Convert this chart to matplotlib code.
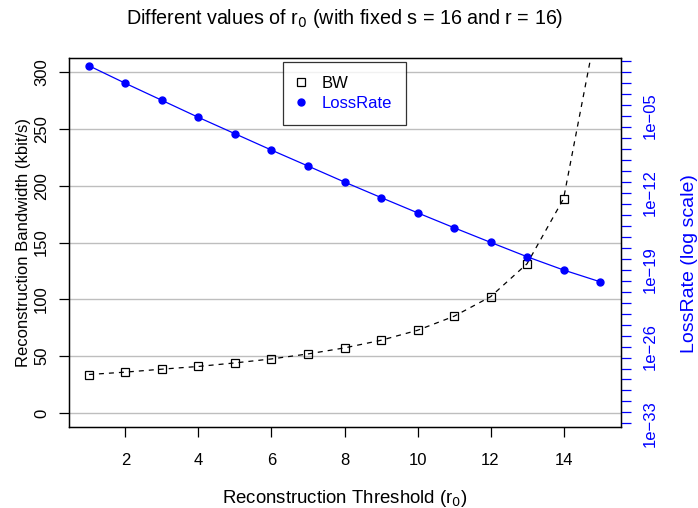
import numpy as np
import matplotlib
matplotlib.use("Agg")
import matplotlib.pyplot as plt
from matplotlib.lines import Line2D

plt.rcParams["font.family"] = ["Liberation Sans", "DejaVu Sans"]

# Reconstruction threshold r0 and the two measured quantities
r0 = [1, 2, 3, 4, 5, 6, 7, 8, 9, 10, 11, 12, 13, 14, 15]
bw = [33.9, 36.0, 38.6, 41.0, 44.1, 47.6, 52.0, 57.3, 64.0, 72.8, 85.1, 102.3, 131.3, 188.5, 355.0]
loss_exp = [-0.43, -2.03, -3.58, -5.13, -6.62, -8.11, -9.56, -11.02, -12.43,
            -13.82, -15.18, -16.51, -17.82, -19.03, -20.10]
loss_rate = [10.0 ** e for e in loss_exp]

x_ticks = [2, 4, 6, 8, 10, 12, 14]
bw_ticks = [0, 50, 100, 150, 200, 250, 300]
loss_label_exps = [-33, -26, -19, -12, -5]

W, H = 698, 508
fig = plt.figure(figsize=(W / 100, H / 100), dpi=100)
left, right, top, bottom = 68.5, 620.5, 58.3, 426.7
ax = fig.add_axes([left / W, 1 - bottom / H, (right - left) / W, (bottom - top) / H])

tick_fs = 12

# Bandwidth on the left axis
ax.set_xlim(0.44, 15.56)
ax.set_ylim(-12, 312)
for v in bw_ticks:
    ax.axhline(v, color="#bebebe", lw=1.0, zorder=0)
ax.plot(r0, bw, color="black", lw=0.9, ls=(0, (4, 4)), marker="s", ms=6.2,
        mfc="none", mec="black", mew=0.9, zorder=3)
ax.set_xticks(x_ticks)
ax.set_yticks(bw_ticks)
ax.set_yticklabels([str(v) for v in bw_ticks], rotation=90, va="center")
ax.tick_params(axis="both", direction="out", length=7, width=0.9, labelsize=tick_fs,
               colors="black")
ax.tick_params(axis="x", pad=12)
ax.tick_params(axis="y", pad=7)
for s in ax.spines.values():
    s.set_linewidth(1.0)
ax.set_xlabel("Reconstruction Threshold (r$_0$)", fontsize=13.4, labelpad=14)
ax.set_ylabel("Reconstruction Bandwidth (kbit/s)", fontsize=12, labelpad=2)

# Loss rate on a logarithmic right axis
ax2 = ax.twinx()
ax2.set_yscale("log")
ax2.set_ylim(10 ** -33.3, 10 ** 0.25)
ax2.plot(r0, loss_rate, color="blue", lw=0.9, marker="o", ms=5.0, mfc="blue",
         mec="blue", zorder=3)
decades = np.arange(-33, 1)
ax2.set_yticks([10.0 ** d for d in decades])
ax2.set_yticklabels([("1e\u2212%02d" % -d) if d in loss_label_exps else "" for d in decades],
                    rotation=90, va="center")
ax2.yaxis.set_minor_locator(matplotlib.ticker.NullLocator())
ax2.tick_params(axis="y", direction="out", length=7, width=0.9, labelsize=tick_fs,
                colors="blue", labelcolor="blue", pad=9)
ax2.spines["right"].set_color("black")
ax2.set_ylabel("LossRate (log scale)", fontsize=14, color="blue", va="center")
ax2.yaxis.set_label_coords((690 - left) / (right - left), (bottom - 264) / (bottom - top))

# Legend
handles = [
    Line2D([], [], ls="none", marker="s", ms=6.2, mfc="none", mec="black", mew=0.9),
    Line2D([], [], ls="none", marker="o", ms=5.0, mfc="blue", mec="blue"),
]
leg = ax2.legend(handles, ["BW", "LossRate"], loc="upper center",
                 bbox_to_anchor=(0.5, (bottom - 62) / (bottom - top)), borderaxespad=0,
                 fontsize=12, frameon=True, fancybox=False, edgecolor="black",
                 handlelength=0.5, handletextpad=0.95, borderpad=0.85, labelspacing=0.3)
leg.get_frame().set_linewidth(0.9)
leg.get_texts()[1].set_color("blue")

fig.suptitle("Different values of r$_0$ (with fixed s = 16 and r = 16)",
             x=(left + right) / 2 / W, y=1 - 18 / H, va="center", fontsize=14.2)

fig.savefig("out.png", dpi=100)
